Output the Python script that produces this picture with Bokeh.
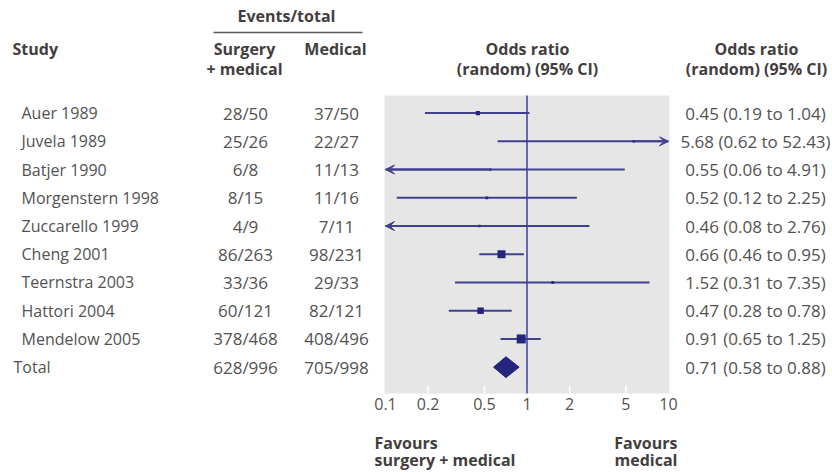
import math
from bokeh.plotting import figure
from bokeh.models import Range1d, LogScale, Arrow, VeeHead
from bokeh.core.properties import value
from bokeh.embed import file_html
from bokeh.resources import INLINE

# ---------------- data ----------------
studies = ["Auer 1989", "Juvela 1989", "Batjer 1990", "Morgenstern 1998",
           "Zuccarello 1999", "Cheng 2001", "Teernstra 2003", "Hattori 2004",
           "Mendelow 2005"]
surg_events = [28, 25, 6, 8, 4, 86, 33, 60, 378]
surg_total = [50, 26, 8, 15, 9, 263, 36, 121, 468]
med_events = [37, 22, 11, 11, 7, 98, 29, 82, 408]
med_total = [50, 27, 13, 16, 11, 231, 33, 121, 496]
odds_ratio = [0.45, 5.68, 0.55, 0.52, 0.46, 0.66, 1.52, 0.47, 0.91]
ci_low = [0.19, 0.62, 0.06, 0.12, 0.08, 0.46, 0.31, 0.28, 0.65]
ci_high = [1.04, 52.43, 4.91, 2.25, 2.76, 0.95, 7.35, 0.78, 1.25]
weight_pct = [7.5, 2.5, 2.0, 3.0, 2.5, 26.0, 3.0, 17.0, 33.0]  # estimated from square sizes

total_label = "Total"
total_surg = [628, 996]
total_med = [705, 998]
total_or = 0.71
total_low = 0.58
total_high = 0.88

ticks = [0.1, 0.2, 0.5, 1, 2, 5, 10]
tick_labels = ["0.1", "0.2", "0.5", "1", "2", "5", "10"]

# ---------------- layout helpers ----------------
W, H = 832, 472
ROW0, STEP = 112.6, 28.23        # screen y of first row, row spacing


def ry(sy):
    return (sy - ROW0) / STEP


X_ONE, PX_DEC = 526.5, 141.5   # pixel of OR=1, pixels per decade

NAVY = "#25257d"
LINE = "#40408f"
VLINE = "#3c3ca0"
TXT = "#525252"
HDR = "#433e3e"
REG = value("Open Sans")

p = figure(width=W, height=H, output_backend="svg", toolbar_location=None,
           x_range=Range1d(0, W), y_range=Range1d(ry(H), ry(0)),
           min_border=0, x_axis_location=None, y_axis_location=None)
p.grid.visible = False
p.outline_line_color = None
p.background_fill_color = "white"
p.border_fill_color = "white"

p.extra_x_ranges = {"or": Range1d(10 ** ((0 - X_ONE) / PX_DEC), 10 ** ((W - X_ONE) / PX_DEC))}
p.extra_x_scales = {"or": LogScale()}

n = len(studies)
rows = list(range(n))
total_row = n

# panel
p.quad(left=384, right=669, top=ry(95), bottom=ry(393),
       fill_color="#e6e6e6", line_color=None)

# white ticks inside panel
inner = [t for t in ticks if ticks[0] < t < ticks[-1]]
p.segment(x0=inner, x1=inner, y0=[ry(385)] * len(inner), y1=[ry(393)] * len(inner),
          x_range_name="or", line_color="white", line_width=1.5)

# line of no effect
p.segment(x0=[1], x1=[1], y0=[ry(95)], y1=[ry(393)], x_range_name="or",
          line_color=VLINE, line_width=1.5)

# confidence intervals
x0 = [max(lo, ticks[0]) for lo in ci_low]
x1 = [min(hi, ticks[-1]) for hi in ci_high]
p.segment(x0=x0, x1=x1, y0=rows, y1=rows, x_range_name="or",
          line_color=LINE, line_width=2)

for i in rows:
    if ci_low[i] < ticks[0]:
        p.add_layout(Arrow(end=VeeHead(size=9, fill_color=LINE, line_color=LINE, line_width=1),
                           x_start=odds_ratio[i], y_start=i, x_end=ticks[0], y_end=i,
                           line_color=LINE, line_width=2, x_range_name="or"))
    if ci_high[i] > ticks[-1]:
        p.add_layout(Arrow(end=VeeHead(size=9, fill_color=LINE, line_color=LINE, line_width=1),
                           x_start=odds_ratio[i], y_start=i, x_end=ticks[-1], y_end=i,
                           line_color=LINE, line_width=2, x_range_name="or"))

# squares sized by weight
k = 9.0 / math.sqrt(max(weight_pct))
p.scatter(x=odds_ratio, y=rows, size=[k * math.sqrt(w) for w in weight_pct],
          marker="square", x_range_name="or", fill_color=NAVY, line_color=None)

# pooled diamond
h = 0.37
p.patch(x=[total_low, total_or, total_high, total_or],
        y=[total_row, total_row - h, total_row, total_row + h],
        x_range_name="or", fill_color=NAVY, line_color=NAVY)

# axis tick labels
p.text(x=ticks, y=[ry(403)] * len(ticks), text=tick_labels, x_range_name="or",
       text_font=REG, text_font_size="16px", text_color=TXT,
       text_align="center", text_baseline="middle")

# ---------------- table text ----------------
names = dict(text_font=REG, text_font_size="16px", text_color=TXT, text_baseline="middle")
nums = dict(text_font=REG, text_font_size="17px", text_color=TXT, text_baseline="middle")
p.text(x=[21] * n, y=rows, text=studies, text_align="left", **names)
p.text(x=[13], y=[total_row], text=[total_label], text_align="left", **names)

col2 = [f"{e}/{t}" for e, t in zip(surg_events, surg_total)] + [f"{total_surg[0]}/{total_surg[1]}"]
col3 = [f"{e}/{t}" for e, t in zip(med_events, med_total)] + [f"{total_med[0]}/{total_med[1]}"]
p.text(x=[245] * (n + 1), y=rows + [total_row], text=col2, text_align="center", **nums)
p.text(x=[336] * (n + 1), y=rows + [total_row], text=col3, text_align="center", **nums)

ors = odds_ratio + [total_or]
los = ci_low + [total_low]
his = ci_high + [total_high]
col4 = [f"{o:.2f} ({l:.2f} to {u:.2f})" for o, l, u in zip(ors, los, his)]
p.text(x=[755] * (n + 1), y=rows + [total_row], text=col4, text_align="center", **nums)

# ---------------- headers ----------------
bold = dict(text_font=REG, text_font_size="16px", text_font_style="bold",
            text_color=HDR, text_baseline="middle")
p.text(x=[286], y=[ry(15)], text=["Events/total"], text_align="center", **bold)
p.segment(x0=[213], x1=[362], y0=[ry(32)], y1=[ry(32)], line_color="#5a5a5a", line_width=1.5)
p.text(x=[12], y=[ry(48)], text=["Study"], text_align="left", **bold)
p.text(x=[244, 244], y=[ry(48), ry(68)], text=["Surgery", "+ medical"], text_align="center", **bold)
p.text(x=[335], y=[ry(48)], text=["Medical"], text_align="center", **bold)
p.text(x=[527, 527], y=[ry(48), ry(68)], text=["Odds ratio", "(random) (95% CI)"],
       text_align="center", **bold)
p.text(x=[756, 756], y=[ry(48), ry(68)], text=["Odds ratio", "(random) (95% CI)"],
       text_align="center", **bold)

# favours labels
p.text(x=[374, 374], y=[ry(442), ry(459)], text=["Favours", "surgery + medical"],
       text_align="left", **bold)
p.text(x=[677, 677], y=[ry(442), ry(459)], text=["Favours", "medical"],
       text_align="right", **bold)

open("out.html", "w").write(file_html(p, INLINE))
